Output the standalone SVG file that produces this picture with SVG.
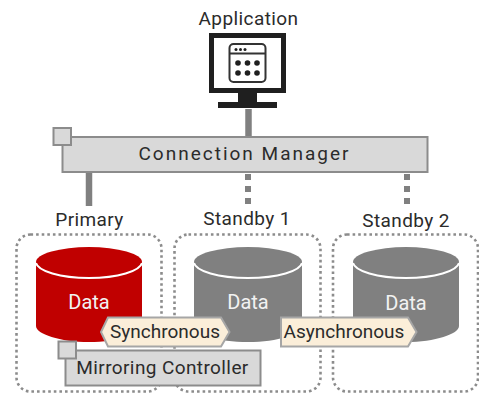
<svg xmlns="http://www.w3.org/2000/svg" width="479" height="394" viewBox="0 0 479 394">
<style>
text{font-family:Roboto,"Noto Sans","DejaVu Sans",sans-serif;font-size:19px;fill:#2b2b2b;text-anchor:middle}
.wide{letter-spacing:.4px}
.data{fill:#f2f2f2;font-size:20px}
.box{fill:#d9d9d9;stroke:#8c8c8c;stroke-width:2}
.zone{fill:none;stroke:#8c8c8c;stroke-width:2.6;stroke-dasharray:2.6 3}
.tag{fill:#fbeed9;stroke:#a6a6a6;stroke-width:2}
.solid{stroke:#808080;stroke-width:6.5;fill:none}
.dash{stroke:#808080;stroke-width:6;fill:none;stroke-dasharray:6 6}
.rim{fill:none;stroke:#fff;stroke-width:2}
.dk{fill:#1f1f1f}
</style>
<rect width="479" height="394" fill="#fff"/>
<g id="connectors">
<line class="solid" x1="248.500" y1="109" x2="248.500" y2="137"/>
<line class="solid" x1="89" y1="172" x2="89" y2="206"/>
<line class="dash" x1="248" y1="174" x2="248" y2="206"/>
<line class="dash" x1="407" y1="174" x2="407" y2="206"/>
</g>
<g id="application">
<text class="wide" x="248.500" y="25">Application</text>
<rect x="211.500" y="35.500" width="72" height="55" fill="#fff" stroke="#1f1f1f" stroke-width="5"/>
<rect class="dk" x="238" y="93" width="19" height="10"/>
<rect class="dk" x="218" y="102" width="59" height="6"/>
<rect x="229.500" y="44" width="36" height="38" rx="4" fill="#fff" stroke="#333" stroke-width="2"/>
<line x1="229.500" y1="53.500" x2="265.500" y2="53.500" stroke="#333" stroke-width="2"/>
<g class="dk"><circle cx="236" cy="49.500" r="1.500"/><circle cx="240.500" cy="49.500" r="1.500"/><circle cx="245" cy="49.500" r="1.500"/>
<circle cx="238" cy="63" r="2.800"/><circle cx="247.500" cy="63" r="2.800"/><circle cx="257" cy="63" r="2.800"/>
<circle cx="238" cy="73" r="2.800"/><circle cx="247.500" cy="73" r="2.800"/><circle cx="257" cy="73" r="2.800"/></g>
</g>
<g id="connection-manager">
<rect class="box" x="62.500" y="137" width="365" height="35"/>
<rect class="box" x="53.500" y="128" width="17.500" height="17"/>
<text x="244.500" y="160" style="letter-spacing:2px">Connection Manager</text>
</g>
<g id="primary">
<rect class="zone" x="16.500" y="234.500" width="145" height="157" rx="14"/>
<text class="wide" x="89.500" y="226">Primary</text>
<path d="M36 262V326C36 334 60 342 89 342S142 334 142 326V262Z" fill="#c00000"/>
<ellipse cx="89" cy="262" rx="53" ry="15" fill="#c00000"/>
<path class="rim" d="M36 263C38 271 60 278 89 278S140 271 142 263"/>
<text class="data" x="89" y="309">Data</text>
</g>
<g id="standby-1">
<rect class="zone" x="174.500" y="234.500" width="146" height="157" rx="14"/>
<text class="wide" x="247" y="225">Standby 1</text>
<path d="M194 262V326C194 334 218 342 248 342S302 334 302 326V262Z" fill="#808080"/>
<ellipse cx="248" cy="262" rx="54" ry="15" fill="#808080"/>
<path class="rim" d="M194 263C196 271 218 278 248 278S300 271 302 263"/>
<text class="data" x="248" y="309">Data</text>
</g>
<g id="standby-2">
<rect class="zone" x="333" y="234.500" width="145" height="157" rx="14"/>
<text class="wide" x="406" y="227">Standby 2</text>
<path d="M353 262V326C353 334 377 342 406 342S459 334 459 326V262Z" fill="#808080"/>
<ellipse cx="406" cy="262" rx="53" ry="15" fill="#808080"/>
<path class="rim" d="M353 263C355 271 377 278 406 278S457 271 459 263"/>
<text class="data" x="406" y="310">Data</text>
</g>
<g id="mirroring-controller">
<rect class="box" x="65.500" y="350.500" width="195" height="35"/>
<rect class="box" x="58.500" y="341.500" width="17.500" height="17"/>
<text class="wide" x="162.500" y="374">Mirroring Controller</text>
</g>
<g id="synchronous">
<path class="tag" d="M108 317.500H221L229.500 332L221 346.500H108L101 332Z"/>
<text x="165" y="338">Synchronous</text>
</g>
<g id="asynchronous">
<path class="tag" d="M281 317.500H408L416.500 332L408 346.500H281Z"/>
<text x="344" y="338">Asynchronous</text>
</g>
</svg>
